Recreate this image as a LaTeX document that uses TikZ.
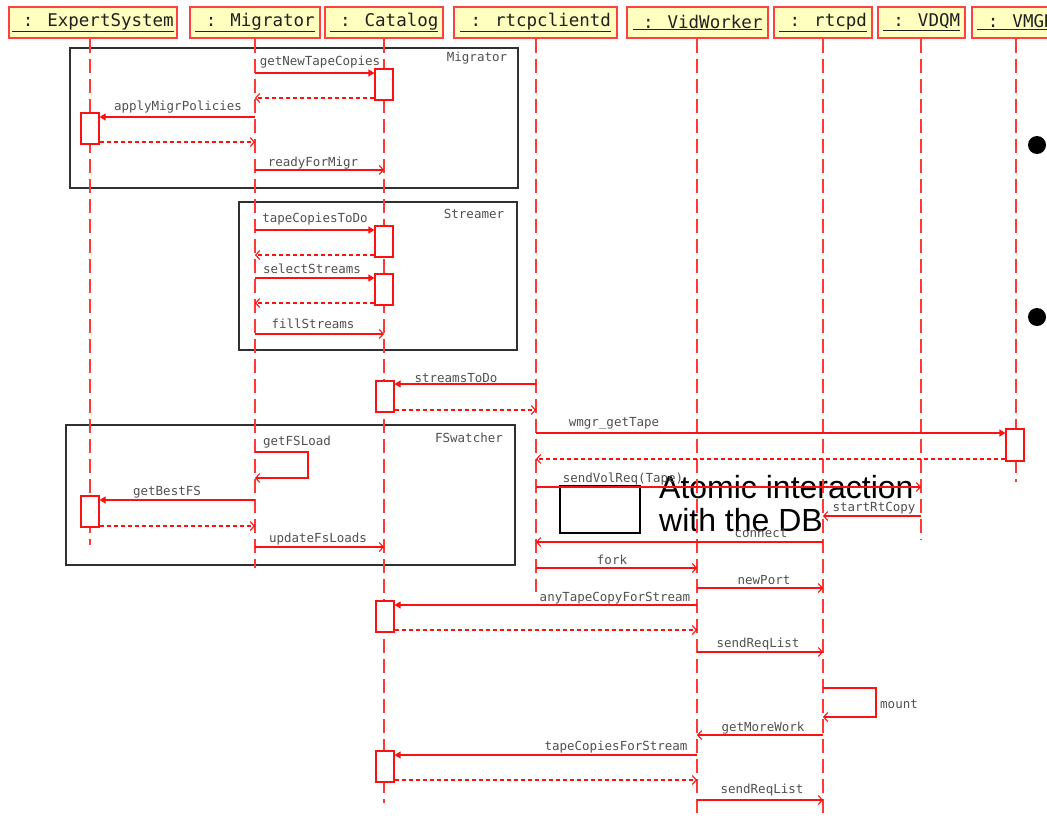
\documentclass[tikz,border=0pt]{standalone}
\usepackage{fontspec}
\setmainfont{DejaVu Sans Mono}
\newfontfamily\atomfont{Liberation Sans}
\usetikzlibrary{arrows.meta}
\definecolor{hyel}{HTML}{FFFFC0}
\definecolor{hred}{HTML}{FF4040}
\definecolor{lred}{HTML}{FF3838}
\definecolor{mred}{HTML}{FF1010}
\definecolor{lblgray}{HTML}{505050}
\definecolor{frgray}{HTML}{303030}
\definecolor{txtdark}{HTML}{202020}
\tikzset{
  hdr/.style={draw=hred, fill=hyel, line width=1.2pt, minimum height=31pt, inner sep=0pt,
    font=\fontsize{17.5}{20}\selectfont, text=txtdark},
  life/.style={draw=lred, line width=1.1pt, dash pattern=on 14pt off 6pt},
  act/.style={draw=mred, fill=white, line width=1.1pt, minimum width=18pt, inner sep=0pt},
  call/.style={draw=mred, line width=1.1pt, -{Triangle[length=6pt,width=7pt]}},
  ret/.style={draw=mred, line width=1.1pt, dash pattern=on 4pt off 3pt, -{Straight Barb[length=4pt,width=9pt]}},
  async/.style={draw=mred, line width=1.1pt, -{Straight Barb[length=4pt,width=9pt]}},
  lbl/.style={font=\fontsize{12.5}{14}\selectfont, text=lblgray, inner sep=0pt},
  frm/.style={draw=frgray, line width=1.5pt, inner sep=0pt},
}
\begin{document}
\begin{tikzpicture}[x=1pt,y=-1pt]
\useasboundingbox (0,0) rectangle (1047,819);
\fill[white] (0,0) rectangle (1047,819);
\clip (0,0) rectangle (1047,819);

% overlay text (lies beneath the lines)
\node[draw=black, line width=2pt, minimum width=80pt, minimum height=47pt, inner sep=0pt] (box) at (600,509.5) {};
\node[anchor=north west, inner sep=0pt, align=left, text=black,
  font=\atomfont\fontsize{32}{33}\selectfont] (atom) at (659,475) {Atomic interaction\\with the DB};

% frames
\node[frm, anchor=north west, minimum width=448pt, minimum height=140pt] (fMig) at (69,47) {};
\node[frm, anchor=north west, minimum width=278pt, minimum height=148pt] (fStr) at (238,201) {};
\node[frm, anchor=north west, minimum width=449pt, minimum height=140pt] (fFS) at (65,424) {};
\node[lbl] (tMig) at (477,58) {Migrator};
\node[lbl] (tStr) at (474,214) {Streamer};
\node[lbl] (tFS) at (469,438) {FSwatcher};

% headers
\node[hdr, minimum width=168pt] (hES) at (93,22.5) {\underline{\ : ExpertSystem}};
\node[hdr, minimum width=130pt] (hMig) at (255,22.5) {\underline{\ : Migrator}};
\node[hdr, minimum width=118pt] (hCat) at (384,22.5) {\underline{\ : Catalog}};
\node[hdr, minimum width=163pt] (hRc) at (535.5,22.5) {\underline{\ : rtcpclientd}};
\node[hdr, minimum width=141pt] (hVw) at (697.5,22.5) {\underline{\ : VidWorker}};
\node[hdr, minimum width=98pt] (hRd) at (823,22.5) {\underline{\ : rtcpd}};
\node[hdr, minimum width=87pt] (hVq) at (921.5,22.5) {\underline{\ : VDQM}};
\node[hdr, minimum width=88pt] (hVm) at (1016,22.5) {\underline{\ : VMGR}};

% lifelines
\coordinate (eES) at (90,545);
\coordinate (eMig) at (255,568);
\coordinate (eCat) at (384,803);
\coordinate (eRc) at (536,592);
\coordinate (eVw) at (697,813);
\coordinate (eRd) at (823,813);
\coordinate (eVq) at (921,540);
\coordinate (eVm) at (1016,482);
\draw[life] (eES |- hES.south) -- (eES);
\draw[life] (eMig |- hMig.south) -- (eMig);
\draw[life] (eCat |- hCat.south) -- (eCat);
\draw[life] (eRc |- hRc.south) -- (eRc);
\draw[life] (eVw |- hVw.south) -- (eVw);
\draw[life] (eRd |- hRd.south) -- (eRd);
\draw[life] (eVq |- hVq.south) -- (eVq);
\draw[life] (eVm |- hVm.south) -- (eVm);

% activations
\node[act, minimum height=31pt] (a1) at (384,84.5) {};
\node[act, minimum height=31pt] (a2) at (90,128.5) {};
\node[act, minimum height=31pt] (a3) at (384,241.5) {};
\node[act, minimum height=31pt] (a4) at (384,289.5) {};
\node[act, minimum height=31pt] (a5) at (385,396.5) {};
\node[act, minimum height=32pt] (a6) at (1015,445) {};
\node[act, minimum height=31pt] (a7) at (90,511.5) {};
\node[act, minimum height=31pt] (a8) at (385,616.5) {};
\node[act, minimum height=31pt] (a9) at (385,766.5) {};

% Migrator frame
\draw[call] (255,73) -- (a1.west |- 0,73);
\draw[ret] (a1.west |- 0,98) -- (255,98);
\draw[call] (255,117) -- (a2.east |- 0,117);
\draw[ret] (a2.east |- 0,142) -- (255,142);
\draw[async] (255,170) -- (384,170);
\node[lbl] (l1) at (320,62) {getNewTapeCopies};
\node[lbl] (l2) at (178,107) {applyMigrPolicies};
\node[lbl] (l3) at (313,163) {readyForMigr};

% Streamer frame
\draw[call] (255,230) -- (a3.west |- 0,230);
\draw[ret] (a3.west |- 0,255) -- (255,255);
\draw[call] (255,278) -- (a4.west |- 0,278);
\draw[ret] (a4.west |- 0,303) -- (255,303);
\draw[async] (255,334) -- (384,334);
\node[lbl] (l4) at (315,219) {tapeCopiesToDo};
\node[lbl] (l5) at (312,269) {selectStreams};
\node[lbl] (l6) at (313,324) {fillStreams};

% streamsToDo, wmgr
\draw[call] (536,384) -- (a5.east |- 0,384);
\draw[ret] (a5.east |- 0,410) -- (536,410);
\draw[call] (536,433) -- (a6.west |- 0,433);
\draw[ret] (a6.west |- 0,459) -- (536,459);
\node[lbl] (l7) at (456,378) {streamsToDo};
\node[lbl] (l8) at (614,423) {wmgr\_getTape};

% FSwatcher frame
\draw[async] (255,452) -- (308,452) -- (308,478) -- (255,478);
\draw[call] (255,500) -- (a7.east |- 0,500);
\draw[ret] (a7.east |- 0,526) -- (255,526);
\draw[async] (255,547) -- (384,547);
\node[lbl] (l9) at (297,442) {getFSLoad};
\node[lbl] (l10) at (167,492) {getBestFS};
\node[lbl] (l11) at (318,539) {updateFsLoads};

% tape request chain
\draw[async] (536,487) -- (921,487);
\draw[async] (921,516) -- (823,516);
\draw[async] (823,542) -- (536,542);
\node[lbl] (l12) at (623,479) {sendVolReq(Tape)};
\node[lbl] (l13) at (874,508) {startRtCopy};
\node[lbl] (l14) at (761,533) {connect};

\draw[async] (536,568) -- (697,568);
\draw[async] (697,588) -- (823,588);
\draw[call] (697,605) -- (a8.east |- 0,605);
\draw[ret] (a8.east |- 0,630) -- (697,630);
\draw[async] (697,652) -- (823,652);
\draw[async] (823,688) -- (876,688) -- (876,717) -- (823,717);
\draw[async] (823,735) -- (697,735);
\draw[call] (697,755) -- (a9.east |- 0,755);
\draw[ret] (a9.east |- 0,780) -- (697,780);
\draw[async] (697,800) -- (823,800);
\node[lbl] (l15) at (612,560) {fork};
\node[lbl] (l16) at (764,580) {newPort};
\node[lbl] (l17) at (615,598) {anyTapeCopyForStream};
\node[lbl] (l18) at (758,644) {sendReqList};
\node[lbl, anchor=west] (l19) at (880,704) {mount};
\node[lbl] (l20) at (763,728) {getMoreWork};
\node[lbl] (l21) at (616,747) {tapeCopiesForStream};
\node[lbl] (l22) at (762,790) {sendReqList};

% bullets
\fill[black] (1037,145) circle (9);
\fill[black] (1037,317) circle (9);
\end{tikzpicture}
\end{document}
